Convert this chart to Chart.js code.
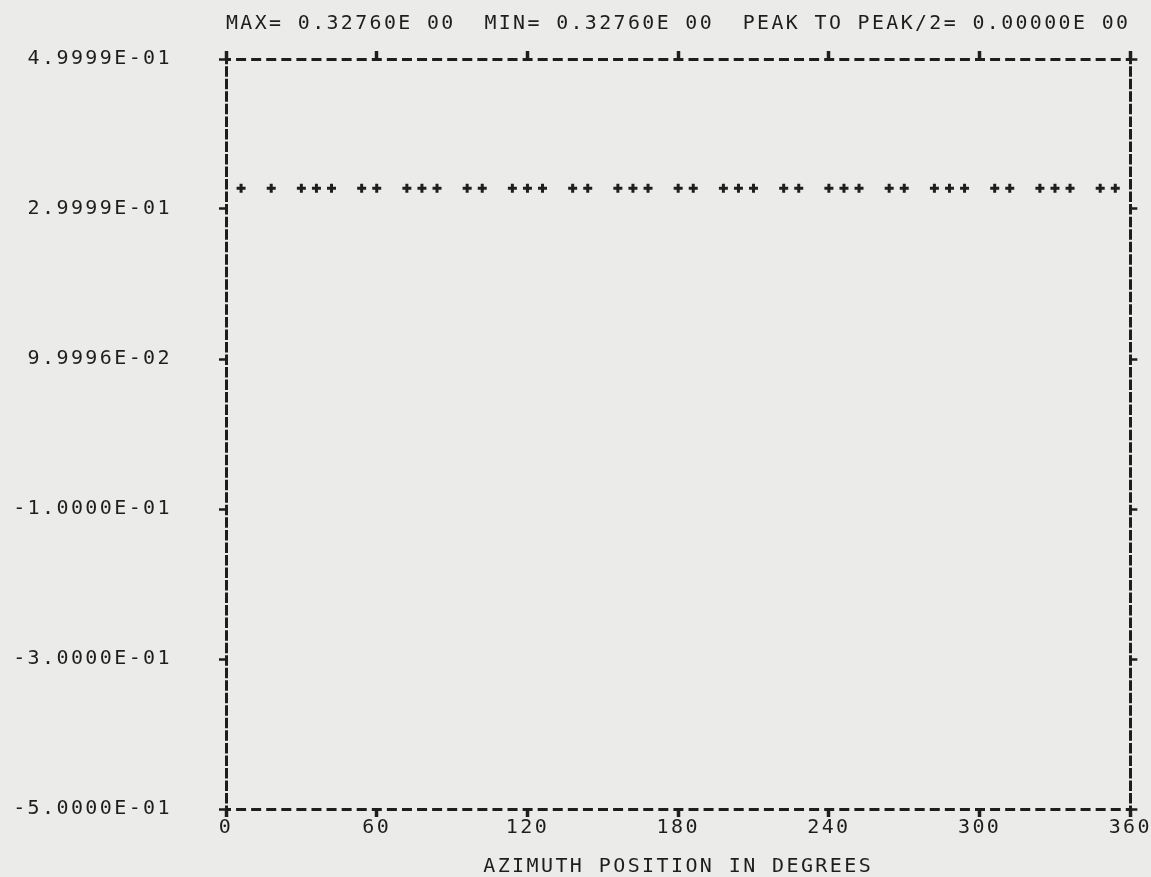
<!DOCTYPE html>
<html>
<head>
<meta charset="utf-8">
<title>Azimuth plot</title>
<script src="https://cdn.jsdelivr.net/npm/chart.js@4.4.1/dist/chart.umd.min.js"></script>
<style>
    body { margin: 0; background: #ebebe9; }
    #wrap { width: 1151px; height: 877px; position: relative; }
</style>
</head>
<body>
<div id="wrap"><canvas id="plotChart"></canvas></div>
<script>
// Data
const azimuthDeg = [6, 18, 30, 36, 42, 54, 60, 72, 78, 84, 96, 102, 114, 120, 126, 138, 144,
    156, 162, 168, 180, 186, 198, 204, 210, 222, 228, 240, 246, 252, 264, 270,
    282, 288, 294, 306, 312, 324, 330, 336, 348, 354];
const amplitude = [0.3276, 0.3276, 0.3276, 0.3276, 0.3276, 0.3276, 0.3276, 0.3276, 0.3276, 0.3276,
    0.3276, 0.3276, 0.3276, 0.3276, 0.3276, 0.3276, 0.3276, 0.3276, 0.3276, 0.3276,
    0.3276, 0.3276, 0.3276, 0.3276, 0.3276, 0.3276, 0.3276, 0.3276, 0.3276, 0.3276,
    0.3276, 0.3276, 0.3276, 0.3276, 0.3276, 0.3276, 0.3276, 0.3276, 0.3276, 0.3276,
    0.3276, 0.3276];
const yTickLabels = ['-5.0000E-01', '-3.0000E-01', '-1.0000E-01', '9.9996E-02', '2.9999E-01', '4.9999E-01'];
const xTickLabels = ['0', '60', '120', '180', '240', '300', '360'];
const headerText = 'MAX= 0.32760E 00  MIN= 0.32760E 00  PEAK TO PEAK/2= 0.00000E 00';
const xAxisText = 'AZIMUTH POSITION IN DEGREES';

const INK = '#1e1e1e';
const NONE = 'rgba(0,0,0,0)';
const printFont = { family: '"DejaVu Sans Mono", monospace', size: 20 };

// line printer look: wide spacing between characters
const spacingPlugin = {
    id: 'spacing',
    beforeLayout(chart) { chart.ctx.letterSpacing = '2.4px'; },
    beforeDraw(chart) { chart.ctx.letterSpacing = '2.4px'; }
};

// only the outermost grid lines are drawn, as the dashed frame
function edgeOnly(lo, hi) {
    return c => (Math.abs(c.tick.value - lo) < 1e-6 || Math.abs(c.tick.value - hi) < 1e-6) ? INK : NONE;
}

document.addEventListener('DOMContentLoaded', function() {
    const ctx = document.getElementById('plotChart').getContext('2d');
    Chart.defaults.color = INK;

    new Chart(ctx, {
        type: 'scatter',
        data: {
            datasets: [{
                data: azimuthDeg.map((a, i) => ({ x: a, y: amplitude[i] })),
                pointStyle: 'cross',
                radius: 4.5,
                borderWidth: 3,
                borderColor: INK,
                backgroundColor: INK
            }]
        },
        options: {
            responsive: true,
            maintainAspectRatio: false,
            animation: false,
            layout: { padding: 0 },
            plugins: {
                legend: { display: false },
                tooltip: { enabled: false }
            },
            scales: {
                x: {
                    type: 'linear',
                    position: 'bottom',
                    min: 0, max: 360,
                    afterFit: s => { s.height = 68; },
                    ticks: {
                        stepSize: 60,
                        padding: -1,
                        maxRotation: 0,
                        font: printFont,
                        callback: (v, i) => xTickLabels[i]
                    },
                    grid: { drawOnChartArea: false, tickLength: 8, tickWidth: 3.5, tickColor: INK },
                    border: { display: false },
                    title: { display: true, text: xAxisText, font: Object.assign({ lineHeight: 1 }, printFont), padding: { top: 0, bottom: 0 } }
                },
                x2: {
                    type: 'linear',
                    position: 'top',
                    min: 0, max: 360,
                    afterFit: s => { s.height = 57; },
                    ticks: { stepSize: 60, display: false },
                    // left and right columns of "I"
                    grid: { drawOnChartArea: true, color: edgeOnly(0, 360), lineWidth: 3, tickLength: 8, tickWidth: 3.5, tickColor: INK },
                    border: { display: false, dash: [10.5, 2.03], dashOffset: 5.25 },
                    title: { display: true, text: headerText, font: printFont, padding: { top: 10, bottom: 0 } }
                },
                y: {
                    type: 'linear',
                    position: 'left',
                    min: -0.5, max: 0.5,
                    afterFit: s => { s.width = 226; },
                    ticks: {
                        stepSize: 0.2,
                        padding: 47,
                        font: printFont,
                        callback: (v, i) => yTickLabels[i]
                    },
                    grid: { drawOnChartArea: false, tickLength: 7, tickWidth: 2.5, tickColor: INK },
                    border: { display: false }
                },
                y2: {
                    type: 'linear',
                    position: 'right',
                    min: -0.5, max: 0.5,
                    afterFit: s => { s.width = 20; },
                    ticks: { stepSize: 0.2, display: false },
                    // top and bottom rows of "-"
                    grid: { drawOnChartArea: true, color: edgeOnly(-0.5, 0.5), lineWidth: 3, tickLength: 7, tickWidth: 2.5, tickColor: INK },
                    border: { display: false, dash: [10, 5.08], dashOffset: 5 }
                }
            }
        },
        plugins: [spacingPlugin]
    });
});
</script>
</body>
</html>
